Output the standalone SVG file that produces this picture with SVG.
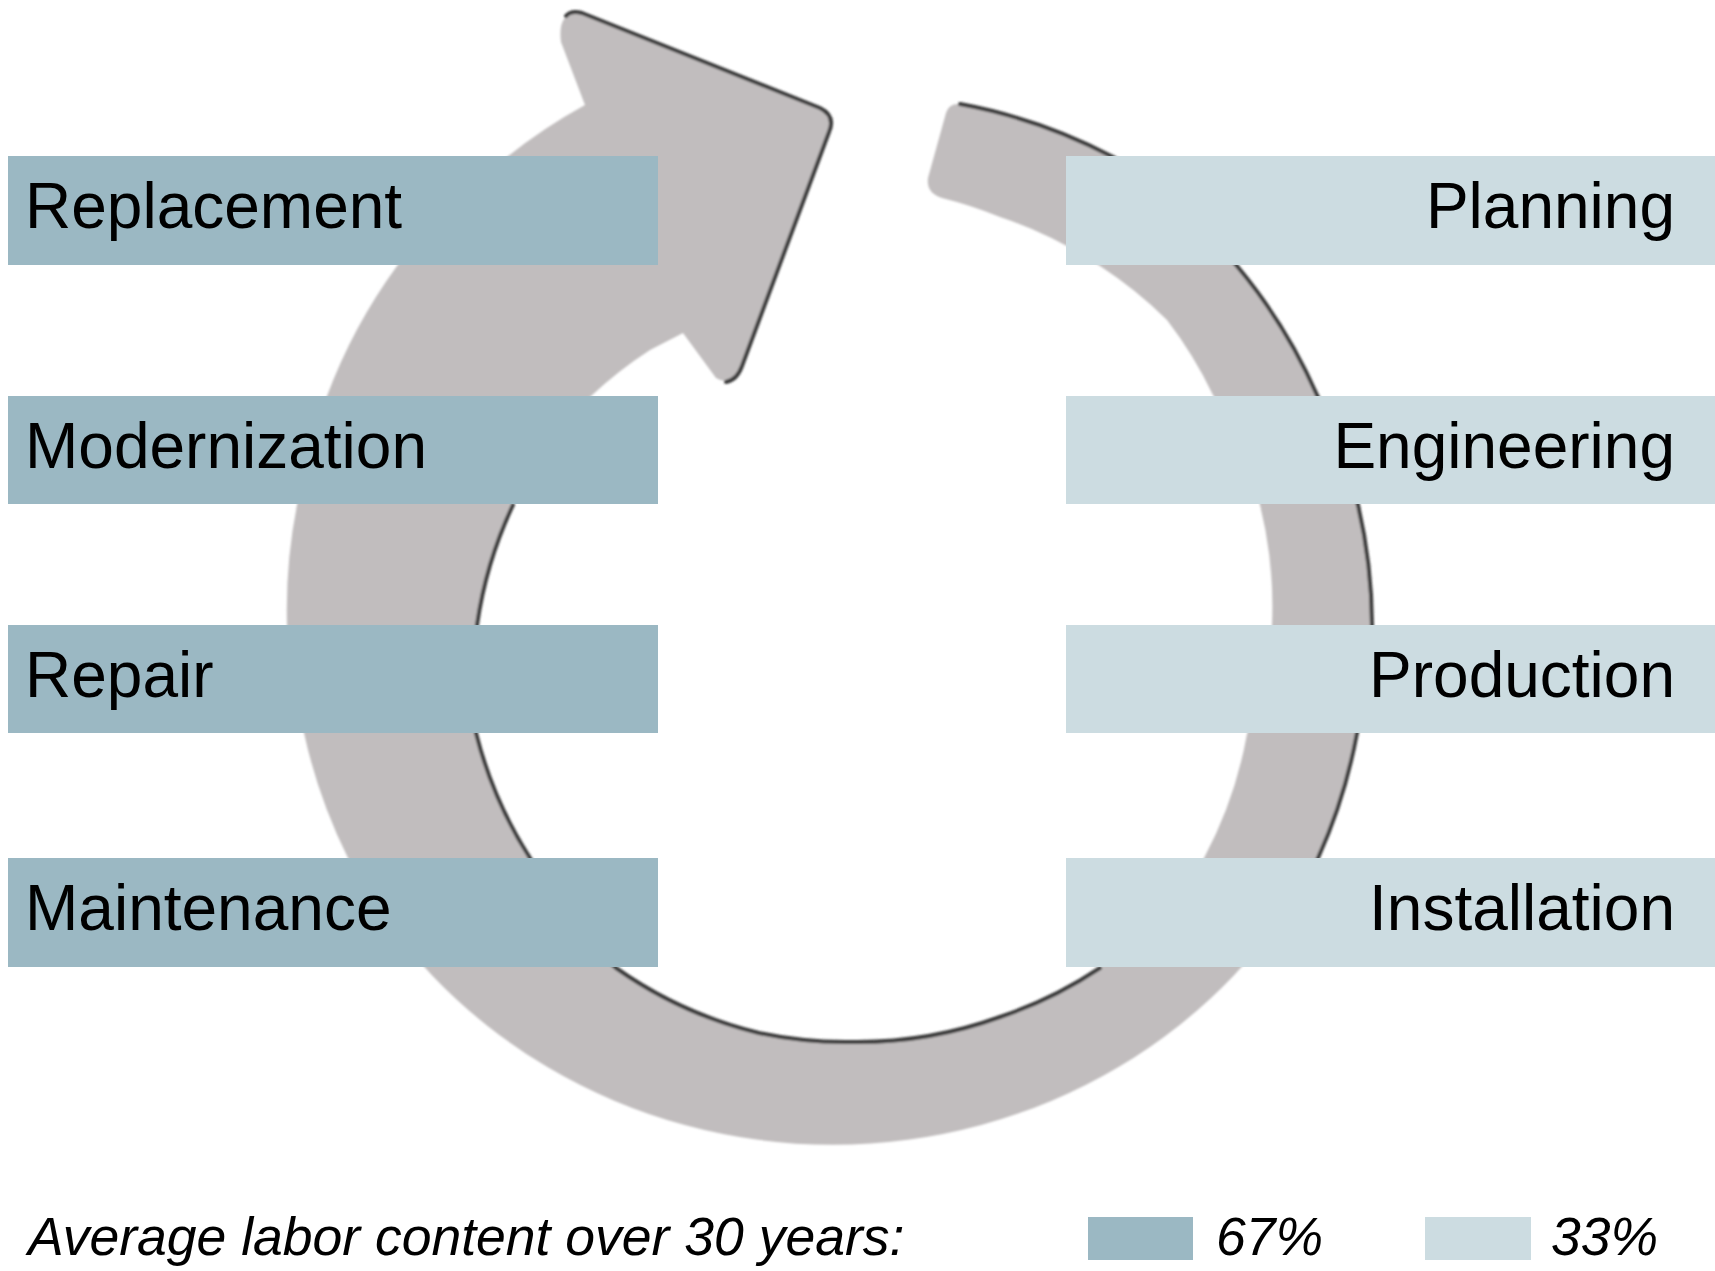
<svg xmlns="http://www.w3.org/2000/svg" width="1715" height="1271" viewBox="0 0 1715 1271">
<style>
  .dark { fill: #9BB8C3; }
  .light { fill: #CCDCE1; }
  .lbl { font-family: "Liberation Sans", Arial, sans-serif; font-size: 64px; fill: #000; }
  .leg { font-family: "Liberation Sans", Arial, sans-serif; font-size: 53.5px; font-style: italic; fill: #000; }
  .edge { fill: none; stroke: #3a3a3a; stroke-width: 4; stroke-linecap: round; stroke-linejoin: round; }
</style>
<defs>
  <filter id="soft" x="-5%" y="-5%" width="110%" height="110%">
    <feGaussianBlur stdDeviation="0.9"/>
  </filter>
</defs>
<rect width="1715" height="1271" fill="#ffffff"/>

<g id="cycle-arrow" filter="url(#soft)">
  <path fill="#C1BDBE" d="M 960,104
    A 540 540 0 0 1 1113,157
    A 540 540 0 0 1 1237,266
    A 540 540 0 0 1 1317,395
    A 540 540 0 0 1 1358,505
    A 540 540 0 0 1 1372,625
    A 540 540 0 0 1 1357,733
    A 540 540 0 0 1 1318,858
    A 542 518 0 0 1 348,858
    A 540 540 0 0 1 304,733
    A 540 540 0 0 1 287,625
    A 540 540 0 0 1 297,505
    A 540 540 0 0 1 327,396
    A 540 540 0 0 1 397,266
    A 540 540 0 0 1 507,157
    A 540 540 0 0 1 585,105
    L 561,42 Q 557,10 582,13
    L 820,108 Q 836,116 829,132
    L 742,366 Q 733,388 716,378
    L 683,333
    L 650,350
    A 420 420 0 0 0 590,397
    A 420 420 0 0 0 513,505
    A 420 420 0 0 0 477,625
    A 420 420 0 0 0 476,733
    A 420 420 0 0 0 530,858
    A 420 420 0 0 0 616,968
    A 420 420 0 0 0 759,1033
    A 420 420 0 0 0 850,1042
    A 420 420 0 0 0 1000,1017
    A 420 420 0 0 0 1100,968
    A 420 420 0 0 0 1204,858
    A 420 420 0 0 0 1247,734
    A 420 420 0 0 0 1272,625
    A 420 420 0 0 0 1260,505
    A 420 420 0 0 0 1213,395
    A 420 420 0 0 0 1167,320
    A 420 420 0 0 0 1100,266
    A 420 420 0 0 0 1000,217
    A 420 420 0 0 0 942,198
    Q 926,193 928,178
    L 946,113 Q 949,103 960,104 Z"/>
  <path class="edge" d="M 566,16 Q 571,10 582,13 L 820,108 Q 836,116 829,132 L 742,366 Q 737,380 726,382"/>
  <path class="edge" d="M 960,104
    A 540 540 0 0 1 1113,157
    A 540 540 0 0 1 1237,266
    A 540 540 0 0 1 1317,395
    A 540 540 0 0 1 1358,505
    A 540 540 0 0 1 1372,625
    A 540 540 0 0 1 1357,733
    A 540 540 0 0 1 1318,858
    C 1309,877 1300,895 1290,910"/>
  <path class="edge" stroke-width="3" d="M 513,505
    A 420 420 0 0 0 477,625
    A 420 420 0 0 0 476,733
    A 420 420 0 0 0 530,858
    A 420 420 0 0 0 616,968
    A 420 420 0 0 0 759,1033
    A 420 420 0 0 0 850,1042
    A 420 420 0 0 0 1000,1017"/>
  <path class="edge" stroke-width="2" stroke="#5a5a5a" d="M 1000,1017 A 420 420 0 0 0 1100,968"/>
</g>

<g id="node-replacement">
  <rect class="dark" x="8" y="156" width="650" height="109"/>
  <text class="lbl" x="25" y="228">Replacement</text>
</g>
<g id="node-modernization">
  <rect class="dark" x="8" y="396" width="650" height="108"/>
  <text class="lbl" x="25" y="468">Modernization</text>
</g>
<g id="node-repair">
  <rect class="dark" x="8" y="625" width="650" height="108"/>
  <text class="lbl" x="25" y="697">Repair</text>
</g>
<g id="node-maintenance">
  <rect class="dark" x="8" y="858" width="650" height="109"/>
  <text class="lbl" x="25" y="930">Maintenance</text>
</g>

<g id="node-planning">
  <rect class="light" x="1066" y="156" width="649" height="109"/>
  <text class="lbl" x="1675" y="228" text-anchor="end">Planning</text>
</g>
<g id="node-engineering">
  <rect class="light" x="1066" y="396" width="649" height="108"/>
  <text class="lbl" x="1675" y="468" text-anchor="end">Engineering</text>
</g>
<g id="node-production">
  <rect class="light" x="1066" y="625" width="649" height="108"/>
  <text class="lbl" x="1675" y="697" text-anchor="end">Production</text>
</g>
<g id="node-installation">
  <rect class="light" x="1066" y="858" width="649" height="109"/>
  <text class="lbl" x="1675" y="930" text-anchor="end">Installation</text>
</g>

<g id="legend">
  <text class="leg" x="28" y="1255">Average labor content over 30 years:</text>
  <rect class="dark" x="1088" y="1217" width="105" height="43"/>
  <text class="leg" x="1216" y="1255">67%</text>
  <rect class="light" x="1425" y="1217" width="106" height="43"/>
  <text class="leg" x="1551" y="1255">33%</text>
</g>
</svg>
